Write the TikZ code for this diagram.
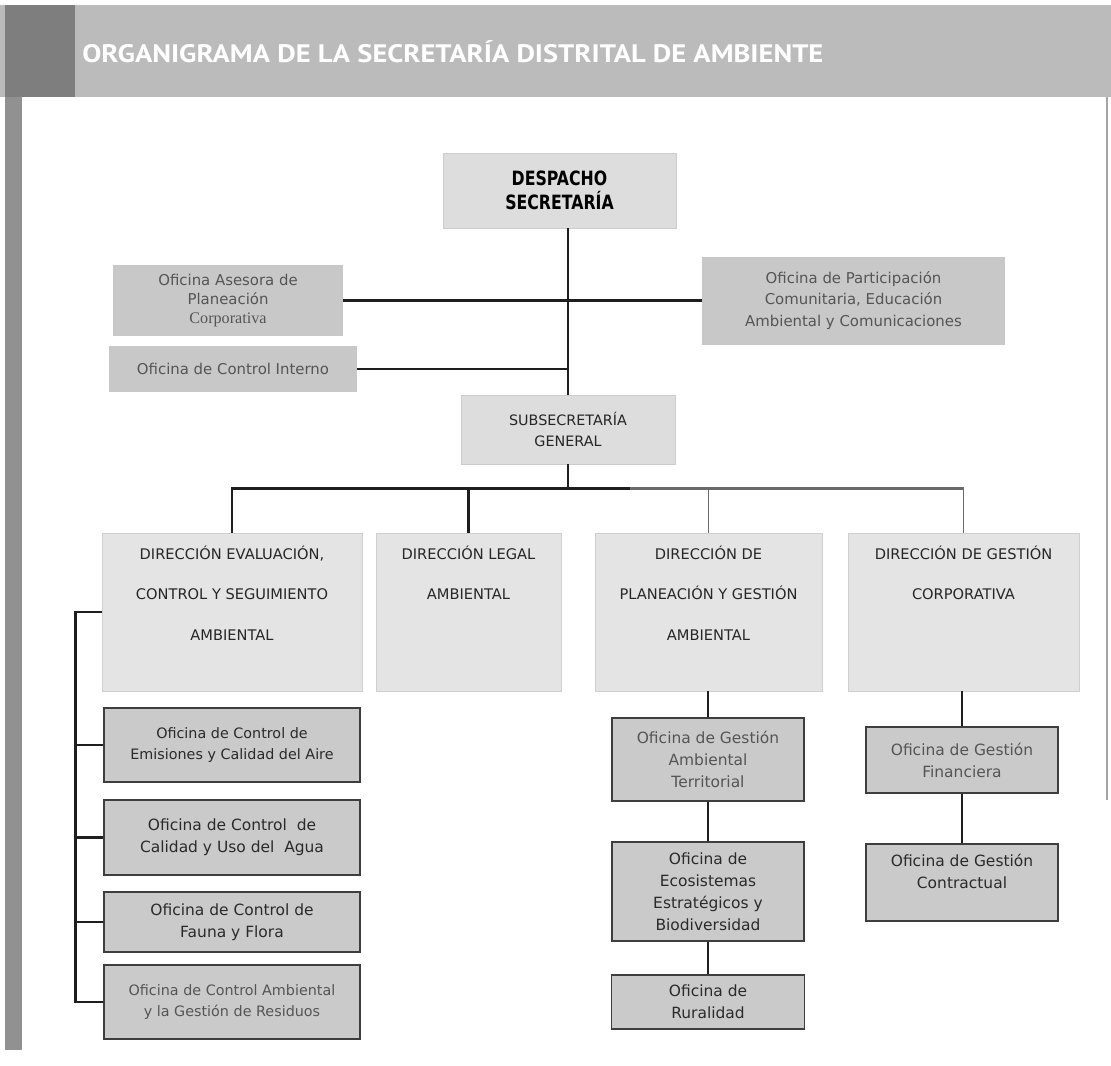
\documentclass[tikz,border=0pt]{standalone}
\usepackage{fontspec}
\usepackage{graphicx}
\setmainfont{DejaVu Sans}
\newfontfamily\titlefont{PT Sans}
\newfontfamily\headfont[FakeStretch=0.8]{DejaVu Sans}
\newfontfamily\corpfont{Liberation Serif}
\newdimen\pxu \pxu=0.025cm
\definecolor{bannergray}{HTML}{BBBBBB}
\definecolor{stripgray}{HTML}{7E7E7E}
\definecolor{officefill}{HTML}{C8C8C8}
\definecolor{officeink}{HTML}{555555}
\definecolor{headfill}{HTML}{DDDDDD}
\definecolor{headline}{HTML}{CCCCCC}
\definecolor{dirfill}{HTML}{E4E4E4}
\definecolor{dirline}{HTML}{CFCFCF}
\definecolor{dirink}{HTML}{262626}
\definecolor{unitfill}{HTML}{CACACA}
\definecolor{unitline}{HTML}{3E3E3E}
\definecolor{unitink}{HTML}{2A2A2A}
\definecolor{connblack}{HTML}{1E1E1E}
\definecolor{conngray}{HTML}{6A6A6A}
\newcommand{\dirtext}[2]{\parbox[c][158\pxu][t]{#1}{\centering\fontsize{10.4}{29}\selectfont\rule{0pt}{26\pxu}#2\par}}

\begin{document}
\begin{tikzpicture}[x=0.025cm, y=-0.025cm,
  office/.style={fill=officefill, text=officeink, inner sep=0pt, align=center, font=\fontsize{10.6}{13.8}\selectfont},
  headbox/.style={fill=headfill, draw=headline, line width=0.6pt, inner sep=0pt, align=center, text=black},
  dirbox/.style={fill=dirfill, draw=dirline, line width=0.6pt, inner sep=0pt, text=dirink, minimum height=158\pxu},
  unitbox/.style={fill=unitfill, draw=unitline, line width=0.9pt, inner sep=0pt, align=center, text=unitink, font=\fontsize{11}{15.6}\selectfont},
  conn/.style={draw=connblack, line width=2.1pt},
  busright/.style={draw=conngray, line width=1.7pt},
  thinconn/.style={draw=conngray, line width=0.8pt}]
			%%%%% START %%%%%
			\useasboundingbox (0,0) rectangle (1111,1065);
			\fill[white] (0,0) rectangle (1111,1065);
			
			\fill[bannergray] (0,5) rectangle (1111,97);
			\fill[stripgray] (5,5) rectangle (75,97);
			\fill[stripgray!85] (5,97) rectangle (22,1050);
			\draw[gray!70, line width=0.8pt] (1107,97) -- (1107,800);
			\node[anchor=base west, inner sep=0pt, text=white, font=\titlefont\bfseries\fontsize{17.3}{20}\selectfont] (title) at (82,62)
				{\resizebox{741\pxu}{22\pxu}{ORGANIGRAMA DE LA SECRETARÍA DISTRITAL DE AMBIENTE}};
			
			\node[headbox, minimum width=233\pxu, minimum height=75\pxu, font=\headfont\bfseries\fontsize{14}{17}\selectfont] (desp) at (559.5,190.5) {DESPACHO\\SECRETARÍA};
			\node[office, minimum width=230\pxu, minimum height=71\pxu] (ases) at (228,300.5) {Oficina Asesora de\\Planeación\\{\corpfont\fontsize{11.5}{13.8}\selectfont Corporativa}};
			\node[office, minimum width=303\pxu, minimum height=88\pxu, font=\fontsize{10.6}{15.2}\selectfont] (part) at (853.5,300.5) {Oficina de Participación\\Comunitaria, Educación\\Ambiental y Comunicaciones};
			\node[office, minimum width=248\pxu, minimum height=46\pxu] (ctrl) at (233,369) {Oficina de Control Interno};
			\node[headbox, minimum width=214\pxu, minimum height=69\pxu, font=\fontsize{10.2}{15}\selectfont, text=dirink] (sub) at (568,429.5) {SUBSECRETARÍA\\GENERAL};
			
			\node[dirbox, minimum width=260\pxu] (dEval) at (232,612) {\dirtext{250\pxu}{DIRECCIÓN EVALUACIÓN,\\CONTROL Y SEGUIMIENTO\\AMBIENTAL}};
			\node[dirbox, minimum width=185\pxu] (dLegal) at (468.5,612) {\dirtext{180\pxu}{DIRECCIÓN LEGAL\\AMBIENTAL}};
			\node[dirbox, minimum width=227\pxu] (dPlan) at (708.5,612) {\dirtext{220\pxu}{DIRECCIÓN DE\\PLANEACIÓN Y GESTIÓN\\AMBIENTAL}};
			\node[dirbox, minimum width=231\pxu] (dGest) at (963.5,612) {\dirtext{225\pxu}{DIRECCIÓN DE GESTIÓN\\CORPORATIVA}};
			
			\node[unitbox, minimum width=256\pxu, minimum height=74\pxu, font=\fontsize{10.2}{15}\selectfont] (ofEmi) at (232,745) {Oficina de Control de\\Emisiones y Calidad del Aire};
			\node[unitbox, minimum width=256\pxu, minimum height=75\pxu] (ofAgua) at (232,837.5) {Oficina de Control\ \ de\\Calidad y Uso del\ \ Agua};
			\node[unitbox, minimum width=256\pxu, minimum height=60\pxu] (ofFauna) at (232,922) {Oficina de Control de\\Fauna y Flora};
			\node[unitbox, minimum width=256\pxu, minimum height=74\pxu, font=\fontsize{10.2}{15}\selectfont, text=officeink] (ofRes) at (232,1002) {Oficina de Control Ambiental\\y la Gestión de Residuos};
			
			\node[unitbox, minimum width=192\pxu, minimum height=83\pxu, text=officeink] (ofTerr) at (708,759.5) {Oficina de Gestión\\Ambiental\\Territorial};
			\node[unitbox, minimum width=192\pxu, minimum height=99\pxu] (ofEco) at (708,891.5) {Oficina de\\Ecosistemas\\Estratégicos y\\Biodiversidad};
			\node[unitbox, minimum width=193\pxu, minimum height=54\pxu] (ofRur) at (708,1002) {Oficina de\\Ruralidad};
			\node[unitbox, minimum width=192\pxu, minimum height=66\pxu, text=officeink] (ofFin) at (962,760) {Oficina de Gestión\\Financiera};
			\node[unitbox, minimum width=192\pxu, minimum height=77\pxu] (ofCon) at (962,882.5) {Oficina de Gestión\\Contractual\\\mbox{}};
			
			% top level
			\draw[conn] (desp.south -| sub.north) -- (sub.north);
			\draw[conn] (ases.east) -- (part.west);
			\draw[conn] (ctrl.east) -- (ctrl.east -| sub.north);
			
			% bus to the directions
			\draw[conn] (sub.south) -- ++(0,24) coordinate (busmid);
			\draw[conn] (dEval.north) |- (busmid);
			\draw[conn] (dLegal.north) -- (dLegal.north |- busmid);
			\draw[busright] (busmid) -- (busmid -| dGest.north);
			\draw[conn] (busmid) -- ++(62,0);
			\draw[thinconn] (busmid -| dPlan.north) -- (dPlan.north);
			\draw[thinconn] (busmid -| dGest.north) -- (dGest.north);
			
			% left bracket
			\draw[conn] (dEval.west) -- ++(-26,0) coordinate (brk) |- (ofRes.west);
			\foreach \n in {ofEmi, ofAgua, ofFauna}
				\draw[conn] (brk |- \n.west) -- (\n.west);
			
			% columns
			\draw[conn] (ofTerr.north |- dPlan.south) -- (ofTerr.north);
			\draw[conn] (ofTerr) -- (ofEco);
			\draw[conn] (ofEco) -- (ofRur);
			\draw[conn] (ofFin.north |- dGest.south) -- (ofFin.north);
			\draw[conn] (ofFin) -- (ofCon);
			%%%%% END %%%%%
\end{tikzpicture}
\end{document}
